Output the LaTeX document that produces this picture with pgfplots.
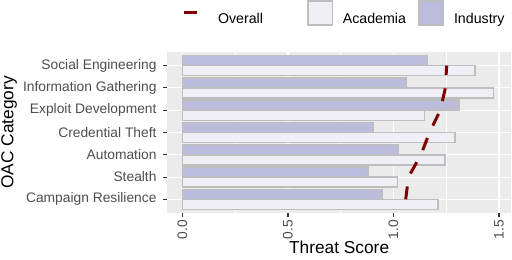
\documentclass[border=0pt]{standalone}
\usepackage{pgfplots}
\pgfplotsset{compat=1.18}
\usepackage{fontspec}
\setmainfont{Liberation Sans}
\definecolor{panel}{RGB}{235,235,235}
\definecolor{indfill}{RGB}{188,188,221}
\definecolor{acadfill}{RGB}{239,239,245}
\definecolor{barline}{RGB}{190,190,190}
\definecolor{overall}{RGB}{128,0,0}
\definecolor{ticklab}{RGB}{77,77,77}
\definecolor{tickcol}{RGB}{51,51,51}
\begin{document}
\begin{tikzpicture}
\useasboundingbox (0,0) rectangle (512bp,260bp);
\begin{axis}[
  at={(167.3bp,47.3bp)}, anchor=south west,
  scale only axis, width=343.7bp, height=160.4bp,
  xmin=-0.072, xmax=1.557, ymin=-0.6, ymax=6.6,
  axis background/.style={fill=panel},
  axis line style={draw=none},
  xtick={0,0.5,1,1.5}, xticklabels={0.0,0.5,1.0,1.5},
  minor xtick={0.25,0.75,1.25},
  ytick={0,1,2,3,4,5,6},
  yticklabels={Campaign Resilience,Stealth,Automation,Credential Theft,Exploit Development,Information Gathering,Social Engineering},
  xtick pos=bottom, ytick pos=left,
  tick align=outside,
  major tick length=4.3bp, minor tick length=0pt,
  every tick/.style={draw=tickcol, line width=1.1bp},
  xmajorgrids, ymajorgrids, xminorgrids,
  major grid style={white, line width=1.1bp},
  minor grid style={white, line width=0.55bp},
  tick label style={font=\fontsize{13.8bp}{16bp}\selectfont, text=ticklab, inner sep=0pt},
  xticklabel style={rotate=90, anchor=east, xshift=-3bp},
  yticklabel style={xshift=-6.3bp, anchor=east},
  xlabel={Threat Score}, ylabel={OAC Category},
  xlabel style={at={(axis description cs:0.5,-0.1746)}, anchor=north, inner sep=0pt, font=\fontsize{17.3bp}{20bp}\selectfont},
  ylabel style={at={(axis description cs:-0.4838,0.5)}, anchor=north, inner sep=0pt, font=\fontsize{17.3bp}{20bp}\selectfont},
  legend style={at={(axis description cs:0.04277,1.32606)}, anchor=north west, draw=none, fill=none, inner sep=0pt, outer sep=0pt,
    nodes={inner sep=0pt}, font=\fontsize{14.2bp}{16bp}\selectfont, legend columns=3,
    /tikz/column 1/.style={column sep=10bp},
    /tikz/column 2/.style={column sep=44.5bp},
    /tikz/column 3/.style={column sep=9.4bp},
    /tikz/column 4/.style={column sep=12.3bp},
    /tikz/column 5/.style={column sep=9.7bp}},
  legend cell align=left,
]
\addplot[xbar, bar width=0.45, bar shift=-0.225, fill=acadfill, draw=barline, line width=1.5bp, forget plot]
  coordinates {(1.211,0) (1.019,1) (1.245,2) (1.291,3) (1.146,4) (1.474,5) (1.386,6)};
\addplot[xbar, bar width=0.45, bar shift=0.225, fill=indfill, draw=barline, line width=1.5bp, forget plot]
  coordinates {(0.946,0) (0.879,1) (1.023,2) (0.904,3) (1.311,4) (1.062,5) (1.161,6)};
\addplot[overall, line width=3bp, dash pattern=on 13bp off 13.5bp, no marks, forget plot]
  coordinates {(1.058,0) (1.071,1) (1.130,2) (1.171,3) (1.222,4) (1.246,5) (1.252,6)};
\addlegendimage{legend image code/.code={\path[draw=none,fill=none] (0bp,-6.9bp) rectangle (26bp,18.8bp); \draw[overall, line width=3bp, solid] (2bp,5.9bp) -- (15bp,5.9bp);}}
\addlegendentry{Overall}
\addlegendimage{legend image code/.code={\path[draw=none,fill=none] (0bp,-6.9bp) rectangle (26bp,18.8bp); \draw[fill=acadfill, draw=barline, line width=1.5bp] (0.75bp,-6.15bp) rectangle (25.25bp,18.05bp);}}
\addlegendentry{Academia}
\addlegendimage{legend image code/.code={\path[draw=none,fill=none] (0bp,-6.9bp) rectangle (26bp,18.8bp); \draw[fill=indfill, draw=barline, line width=1.5bp] (0.75bp,-6.15bp) rectangle (25.25bp,18.05bp);}}
\addlegendentry{Industry}
\end{axis}
\end{tikzpicture}
\end{document}
